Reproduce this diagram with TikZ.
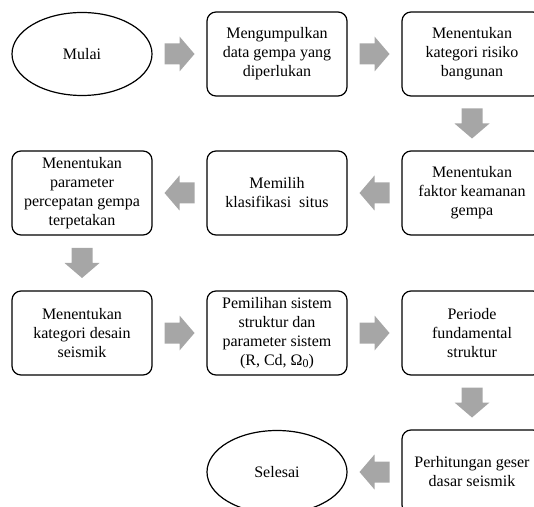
\documentclass[tikz,border=0pt]{standalone}
\usepackage{fontspec}
\setmainfont{Liberation Serif}
\usetikzlibrary{shapes.geometric,calc}
\definecolor{arrowgray}{RGB}{166,166,166}
\tikzset{
  stepbox/.style={draw=black, line width=1.2pt, rounded corners=9pt, minimum width=140pt, minimum height=84pt, align=center, inner sep=2pt, font=\fontsize{16}{19}\selectfont},
  oval/.style={draw=black, line width=1.2pt, ellipse, minimum width=140pt, minimum height=83pt, inner sep=0pt, font=\fontsize{16}{19}\selectfont},
  barrow/.pic={\fill[arrowgray] (-15,-10.5) -- (0,-10.5) -- (0,-17.5) -- (15,0) -- (0,17.5) -- (0,10.5) -- (-15,10.5) -- cycle;},
}
\begin{document}
\begin{tikzpicture}[x=1pt,y=1pt]
\useasboundingbox (0,0) rectangle (534,506);
\clip (0,0) rectangle (534,506);
% row 1
\node[oval] (mulai) at (82,452) {Mulai};
\node[stepbox] (data) at (277,452) {Mengumpulkan\\data gempa yang\\diperlukan};
\node[stepbox] (risiko) at (472,452) {Menentukan\\kategori risiko\\bangunan};
% row 2
\node[stepbox] (faktor) at (472,313) {Menentukan\\faktor keamanan\\gempa};
\node[stepbox] (situs) at (277,313) {Memilih\\klasifikasi\ \ situs};
\node[stepbox] (param) at (82,313) {Menentukan\\parameter\\percepatan gempa\\terpetakan};
% row 3
\node[stepbox] (desain) at (82,173) {Menentukan\\kategori desain\\seismik};
\node[stepbox] (sistem) at (277,173) {Pemilihan sistem\\struktur dan\\parameter sistem\\(R, Cd, Ω\raisebox{-0.3ex}{\fontsize{12}{12}\selectfont 0})};
\node[stepbox] (periode) at (472,173) {Periode\\fundamental\\struktur};
% row 4
\node[stepbox] (geser) at (472,34) {Perhitungan geser\\dasar seismik};
\node[oval] (selesai) at (277,34) {Selesai};
% block arrows between the nodes
\pic at ($(mulai.east)!0.5!(data.west)$) {barrow};
\pic at ($(data.east)!0.5!(risiko.west)$) {barrow};
\pic[rotate=-90] at ($(risiko.south)!0.5!(faktor.north)$) {barrow};
\pic[rotate=180] at ($(faktor.west)!0.5!(situs.east)$) {barrow};
\pic[rotate=180] at ($(situs.west)!0.5!(param.east)$) {barrow};
\pic[rotate=-90] at ($(param.south)!0.5!(desain.north)$) {barrow};
\pic at ($(desain.east)!0.5!(sistem.west)$) {barrow};
\pic at ($(sistem.east)!0.5!(periode.west)$) {barrow};
\pic[rotate=-90] at ($(periode.south)!0.5!(geser.north)$) {barrow};
\pic[rotate=180] at ($(geser.west)!0.5!(selesai.east)$) {barrow};
\end{tikzpicture}
\end{document}
